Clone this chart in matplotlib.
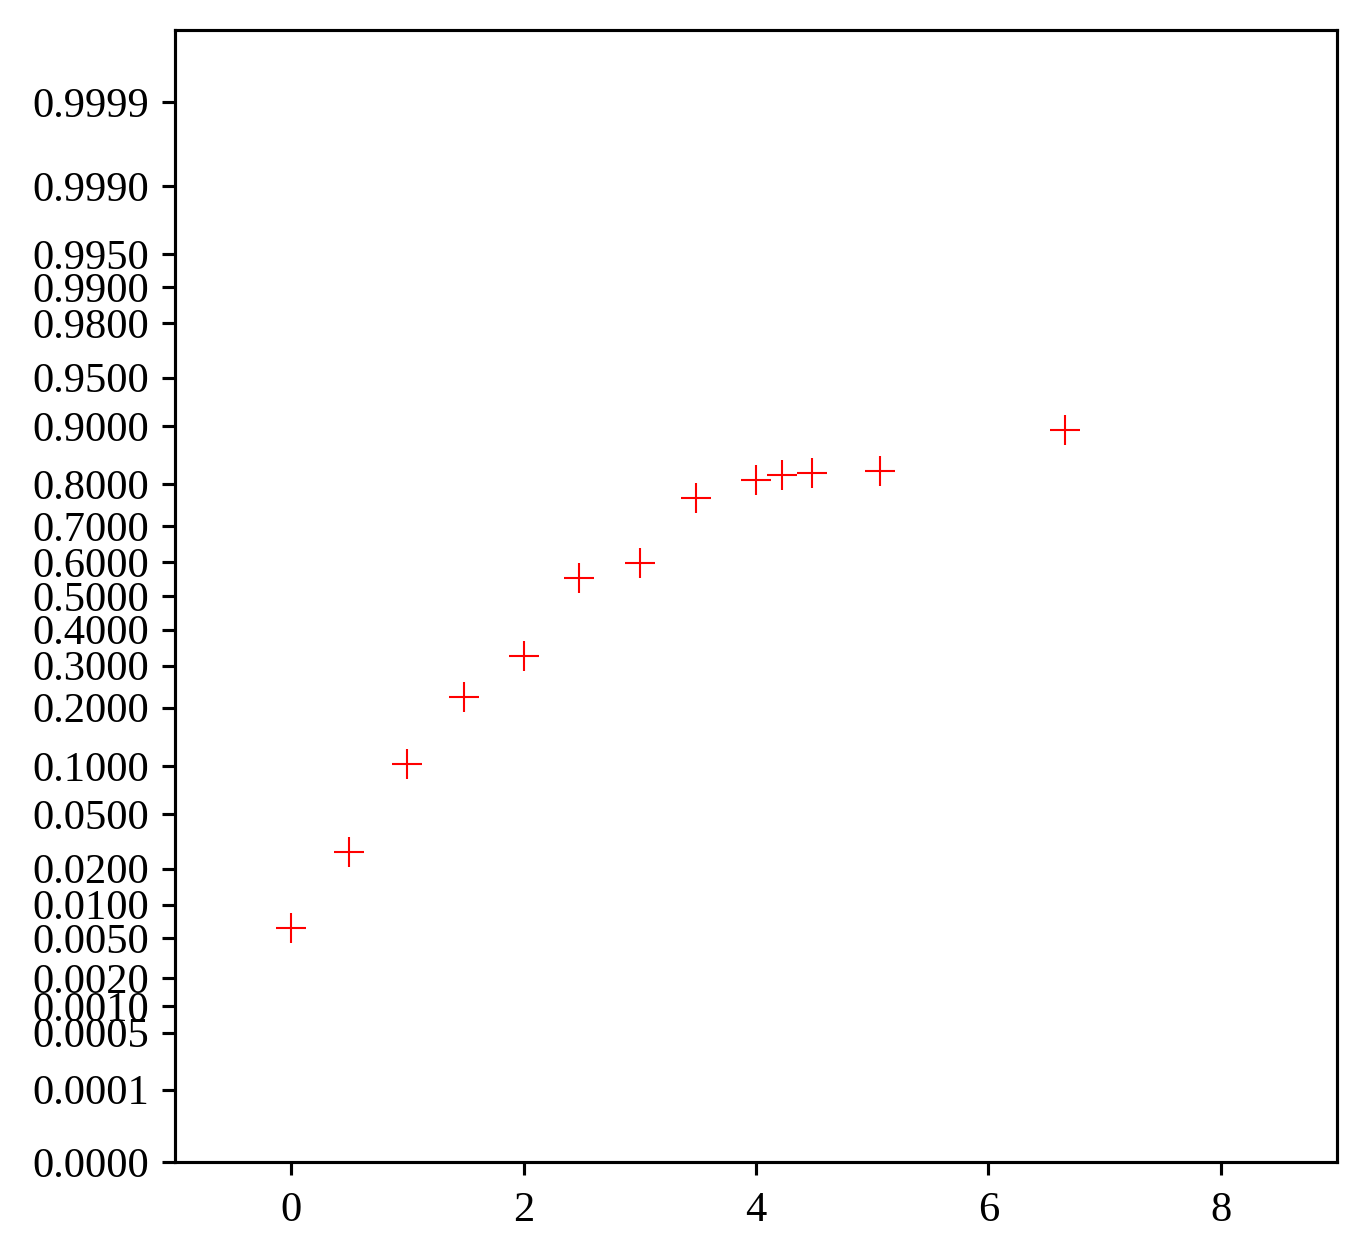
import numpy as np
import matplotlib
matplotlib.use('Agg')
import matplotlib.pyplot as plt
from matplotlib.ticker import FixedLocator, FuncFormatter
from statistics import NormalDist

# data (x, cumulative probability)
x_vals = [0.0, 0.5, 1.0, 1.49, 2.0, 2.48, 3.0, 3.48, 4.0, 4.22, 4.48, 5.07, 6.66]
p_vals = [0.0062, 0.0270, 0.1028, 0.2233, 0.3256, 0.554, 0.598, 0.770,
          0.8095, 0.8197, 0.8236, 0.8275, 0.895]

p_ticks = [0.00001, 0.0001, 0.0005, 0.001, 0.002, 0.005, 0.01, 0.02, 0.05,
           0.1, 0.2, 0.3, 0.4, 0.5, 0.6, 0.7, 0.8, 0.9, 0.95, 0.98, 0.99,
           0.995, 0.999, 0.9999]
x_ticks = [0, 2, 4, 6, 8]

plt.rcParams['font.family'] = ['Liberation Serif', 'DejaVu Serif']

nd = NormalDist()
_ppf = np.vectorize(nd.inv_cdf, otypes=[float])
_cdf = np.vectorize(nd.cdf, otypes=[float])


def forward(p):
    p = np.clip(np.asarray(p, dtype=float), 1e-15, 1 - 1e-15)
    return _ppf(p)


def inverse(z):
    return _cdf(np.asarray(z, dtype=float))


fig = plt.figure(figsize=(1366 / 300, 1259 / 300), dpi=300)
ax = fig.add_axes([175 / 1366, 1 - 1162 / 1259, (1337 - 175) / 1366, (1162 - 30) / 1259])

ax.set_yscale('function', functions=(forward, inverse))
ax.plot(x_vals, p_vals, linestyle='none', marker='+', color='red',
        markersize=7.2, markeredgewidth=0.5)

ax.set_xlim(-1, 9)
ax.set_ylim(0.00001, 1 - 0.00001)
ax.xaxis.set_major_locator(FixedLocator(x_ticks))
ax.yaxis.set_major_locator(FixedLocator(p_ticks))
ax.yaxis.set_major_formatter(FuncFormatter(lambda v, pos: f'{v:.4f}'))
ax.yaxis.set_minor_locator(FixedLocator([]))

for side in ax.spines.values():
    side.set_linewidth(0.75)
ax.tick_params(axis='both', length=3.1, width=0.75, labelsize=10.2)
ax.tick_params(axis='y', pad=3.0)
ax.tick_params(axis='x', pad=4.0)

fig.savefig('out.png', dpi=300)
